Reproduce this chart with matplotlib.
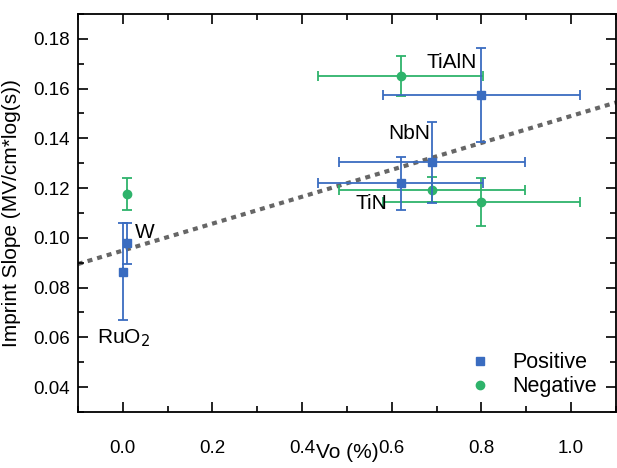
import matplotlib.pyplot as plt
from matplotlib.ticker import MultipleLocator
from matplotlib.lines import Line2D

plt.rcParams['font.family'] = ['Liberation Sans', 'DejaVu Sans']

# Positive imprint slopes (RuO2, W, TiN, NbN, TiAlN)
pos_vo = [0.0, 0.01, 0.62, 0.69, 0.80]
pos_vo_err = [0.0, 0.0, 0.184, 0.207, 0.219]
pos_slope = [0.0863, 0.0978, 0.1219, 0.1303, 0.1575]
pos_slope_err = [0.0195, 0.0083, 0.0106, 0.0164, 0.019]

# Negative imprint slopes (W, TiN, NbN, TiAlN)
neg_vo = [0.01, 0.80, 0.69, 0.62]
neg_vo_err = [0.0, 0.219, 0.207, 0.184]
neg_slope = [0.1175, 0.1144, 0.1194, 0.1652]
neg_slope_err = [0.0065, 0.0095, 0.005, 0.008]

# linear trend
fit_x = [-0.1, 1.1]
fit_intercept = 0.0949
fit_slope = 0.0541

labels = ["RuO$_2$", "W", "TiN", "NbN", "TiAlN"]
label_x = [-0.058, 0.027, 0.519, 0.593, 0.677]
label_y = [0.0598, 0.102, 0.1137, 0.142, 0.1706]

blue = '#3a6cc0'
green = '#2eb36b'

fig = plt.figure(figsize=(6.17, 4.68), dpi=100)
ax = fig.add_axes([0.1264, 0.1197, 0.8718, 0.8504])

ax.plot(fit_x, [fit_intercept + fit_slope * x for x in fit_x],
        linestyle=(0, (1.2, 1.2)), color='#666666', linewidth=3, zorder=1)

ax.errorbar(pos_vo, pos_slope, xerr=pos_vo_err, yerr=pos_slope_err,
            fmt='s', color=blue, markersize=5.5, elinewidth=1.3,
            capsize=3.5, capthick=1.3, zorder=3)
ax.errorbar(neg_vo, neg_slope, xerr=neg_vo_err, yerr=neg_slope_err,
            fmt='o', color=green, markersize=6, elinewidth=1.3,
            capsize=3.5, capthick=1.3, zorder=2)

for name, x, y in zip(labels, label_x, label_y):
    ax.text(x, y, name, fontsize=15, ha='left', va='center')

ax.set_xlim(-0.1, 1.1)
ax.set_ylim(0.03, 0.19)
ax.xaxis.set_major_locator(MultipleLocator(0.2))
ax.xaxis.set_minor_locator(MultipleLocator(0.1))
ax.yaxis.set_major_locator(MultipleLocator(0.02))
ax.yaxis.set_minor_locator(MultipleLocator(0.01))
ax.set_xticks([0.0, 0.2, 0.4, 0.6, 0.8, 1.0])
ax.set_yticks([0.04, 0.06, 0.08, 0.10, 0.12, 0.14, 0.16, 0.18])
ax.set_xticklabels(['0.0', '0.2', '0.4', '0.6', '0.8', '1.0'])
ax.set_yticklabels(['0.04', '0.06', '0.08', '0.10', '0.12', '0.14', '0.16', '0.18'])

ax.tick_params(which='both', direction='in', top=True, right=True, width=1.2)
ax.tick_params(which='major', length=7, labelsize=13.5)
ax.tick_params(which='minor', length=4)
ax.tick_params(axis='x', which='major', pad=20)
ax.tick_params(axis='y', which='major', pad=6)
for s in ax.spines.values():
    s.set_linewidth(1.3)

ax.set_xlabel('Vo (%)', fontsize=15)
ax.xaxis.set_label_coords(0.5, -0.078)
ax.xaxis.label.set_va('top')
ax.set_ylabel('Imprint Slope (MV/cm*log(s))', fontsize=15)
ax.yaxis.set_label_coords(-0.106, 0.5)

handles = [Line2D([], [], marker='s', linestyle='none', color=blue, markersize=5.5),
           Line2D([], [], marker='o', linestyle='none', color=green, markersize=6)]
ax.legend(handles, ['Positive', 'Negative'], loc='lower right', frameon=False,
          fontsize=15.5, handlelength=1.0, handletextpad=1.0, labelspacing=0.15,
          bbox_to_anchor=(1.0, -0.012))

fig.savefig('out.png', dpi=100)
